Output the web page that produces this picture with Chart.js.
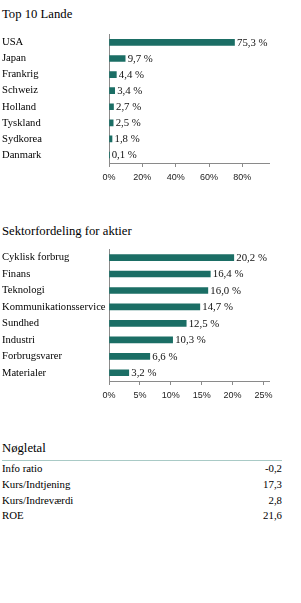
<!DOCTYPE html>
<html>
<head>
<meta charset="utf-8">
<script src="https://cdn.jsdelivr.net/npm/chart.js@4.4.0/dist/chart.umd.min.js"></script>
<style>
  body { margin: 0; width: 301px; height: 603px; background: #fff; position: relative; font-family: "Liberation Serif", serif; color: #000; }
  .title { position: absolute; left: 2px; font-size: 12.7px; line-height: 16px; white-space: nowrap; }
  .box { position: absolute; left: 0; width: 301px; }
  #keys { position: absolute; left: 2px; top: 460px; width: 280px; border-top: 1px solid #a9cac6; border-collapse: collapse; font-size: 10.8px; }
  #keys td { padding: 0; height: 15.8px; line-height: 15.8px; white-space: nowrap; }
  #keys td.v { text-align: right; }
</style>
</head>
<body>

<div class="title" style="top:6px">Top 10 Lande</div>
<div class="box" style="top:25px;height:165px"><canvas id="landeChart"></canvas></div>

<div class="title" style="top:223px">Sektorfordeling for aktier</div>
<div class="box" style="top:240px;height:168px"><canvas id="sektorChart"></canvas></div>

<div class="title" style="top:440px">Nøgletal</div>
<table id="keys"></table>

<script>
const landeLabels = ['USA', 'Japan', 'Frankrig', 'Schweiz', 'Holland', 'Tyskland', 'Sydkorea', 'Danmark'];
const landeValues = [75.3, 9.7, 4.4, 3.4, 2.7, 2.5, 1.8, 0.1];
const landeTicks = [0, 20, 40, 60, 80];

const sektorLabels = ['Cyklisk forbrug', 'Finans', 'Teknologi', 'Kommunikationsservice', 'Sundhed', 'Industri', 'Forbrugsvarer', 'Materialer'];
const sektorValues = [20.2, 16.4, 16.0, 14.7, 12.5, 10.3, 6.6, 3.2];
const sektorTicks = [0, 5, 10, 15, 20, 25];

const keyLabels = ['Info ratio', 'Kurs/Indtjening', 'Kurs/Indreværdi', 'ROE'];
const keyValues = ['-0,2', '17,3', '2,8', '21,6'];

const barColor = '#1b6e65';
const axisColor = '#8a8a8a';

// writes "75,3 %" right after the end of every bar
const valueLabels = {
  id: 'valueLabels',
  afterDatasetsDraw(chart) {
    const ctx = chart.ctx;
    const meta = chart.getDatasetMeta(0);
    const data = chart.data.datasets[0].data;
    ctx.save();
    ctx.font = '10.8px "Liberation Serif"';
    ctx.fillStyle = '#111';
    ctx.textAlign = 'left';
    ctx.textBaseline = 'middle';
    meta.data.forEach((bar, i) => {
      const txt = data[i].toFixed(1).replace('.', ',') + ' %';
      ctx.fillText(txt, bar.x + 2.5, bar.y + 0.5);
    });
    ctx.restore();
  }
};

function makeChart(id, labels, values, ticks, max) {
  const count = labels.length;
  return new Chart(document.getElementById(id), {
    type: 'bar',
    data: {
      labels: labels,
      datasets: [{
        data: values,
        backgroundColor: barColor,
        borderWidth: 0,
        barThickness: 6
      }]
    },
    options: {
      indexAxis: 'y',
      responsive: true,
      maintainAspectRatio: false,
      animation: false,
      layout: { padding: { top: 8, right: 32, left: 2, bottom: 0 } },
      plugins: {
        legend: { display: false },
        tooltip: { enabled: false }
      },
      scales: {
        x: {
          min: 0,
          max: max,
          afterBuildTicks: axis => { axis.ticks = ticks.map(v => ({ value: v })); },
          afterFit: scale => { scale.height = 27; },
          grid: { drawOnChartArea: false, tickLength: 4, color: axisColor },
          border: { color: axisColor },
          ticks: {
            padding: 5,
            color: '#222',
            font: { family: '"Liberation Sans Narrow", "Liberation Sans"', size: 9 },
            callback: v => v + '%'
          }
        },
        y: {
          afterFit: scale => { scale.width = 107; },
          grid: {
            drawOnChartArea: false,
            tickLength: 4,
            color: c => (c.index === count ? axisColor : 'rgba(0,0,0,0)')
          },
          border: { color: axisColor },
          ticks: {
            crossAlign: 'far',
            color: '#000',
            font: { family: '"Liberation Serif"', size: 10.6 }
          }
        }
      }
    },
    plugins: [valueLabels]
  });
}

makeChart('landeChart', landeLabels, landeValues, landeTicks, 96);
makeChart('sektorChart', sektorLabels, sektorValues, sektorTicks, 25.9);

const table = document.getElementById('keys');
keyLabels.forEach((lab, i) => {
  const tr = document.createElement('tr');
  const a = document.createElement('td');
  a.textContent = lab;
  const b = document.createElement('td');
  b.className = 'v';
  b.textContent = keyValues[i];
  tr.appendChild(a);
  tr.appendChild(b);
  table.appendChild(tr);
});
</script>
</body>
</html>
